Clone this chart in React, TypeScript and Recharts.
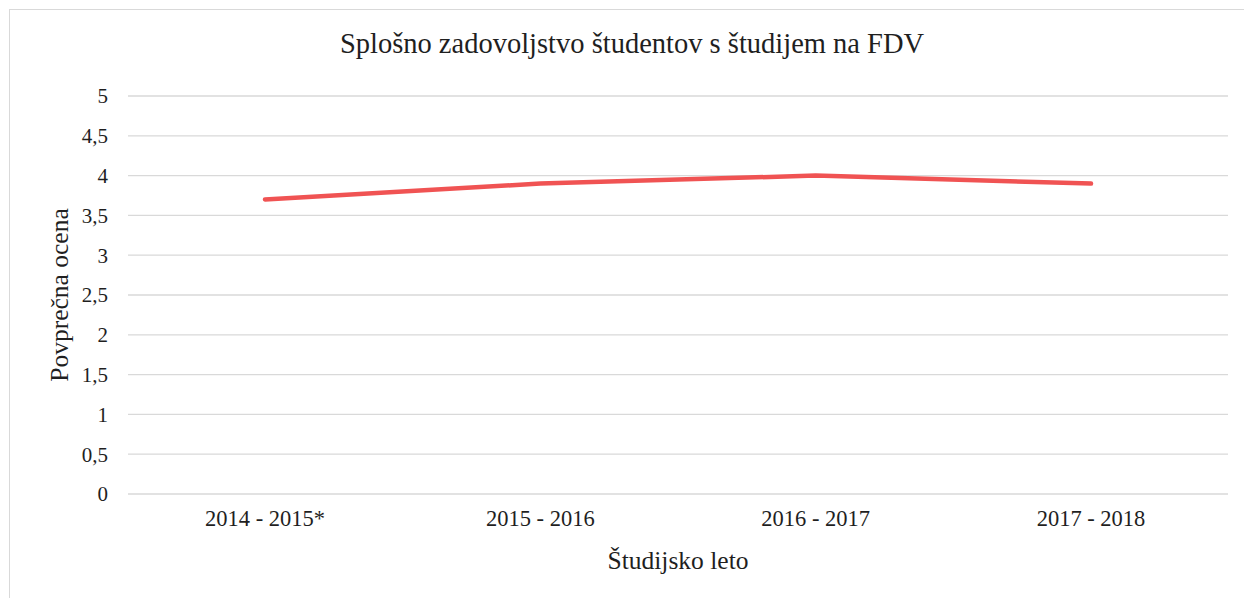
import React from 'react';
import { LineChart, Line, XAxis, YAxis, CartesianGrid } from 'recharts';

const years = ['2014 - 2015*', '2015 - 2016', '2016 - 2017', '2017 - 2018'];
const avgScores = [3.7, 3.9, 4.0, 3.9];
const yTicks = [0, 0.5, 1, 1.5, 2, 2.5, 3, 3.5, 4, 4.5, 5];

const data = years.map((year, i) => ({ year, score: avgScores[i] }));

const font = "'Liberation Serif', serif";
const textColor = '#1f1f1f';

const fmt = (v: number) => String(v).replace('.', ',');

export default function App() {
    return (
        <div style={{ position: 'absolute', left: 0, top: 0, width: 1244, height: 598, overflow: 'hidden', background: '#fff', fontFamily: font }}>
            {/* chart frame, cut off at right and bottom like the source */}
            <div style={{ position: 'absolute', left: 9, top: 9, width: 1300, height: 700, border: '1.5px solid #d9d9d9' }} />
            <div style={{ position: 'absolute', left: 0, top: 28, width: 1264, textAlign: 'center', fontSize: 28.5, color: textColor, fontFamily: font }}>
                Splošno zadovoljstvo študentov s študijem na FDV
            </div>
            <LineChart
                width={1244}
                height={598}
                data={data}
                margin={{ top: 96, right: 16, bottom: 24, left: 68 }}
                style={{ position: 'absolute', left: 0, top: 0, fontFamily: font }}
            >
                <CartesianGrid vertical={false} stroke="#d9d9d9" strokeWidth={1.3} />
                <XAxis
                    dataKey="year"
                    height={80}
                    padding={{ left: 137, right: 137 }}
                    axisLine={false}
                    tickLine={false}
                    tickSize={0}
                    tickMargin={16}
                    tick={{ fill: textColor, fontSize: 22.5, fontFamily: font }}
                    label={{ value: 'Študijsko leto', position: 'insideBottom', offset: 5, fill: textColor, fontSize: 25.5, fontFamily: font }}
                />
                <YAxis
                    width={60}
                    domain={[0, 5]}
                    ticks={yTicks}
                    tickFormatter={fmt}
                    axisLine={false}
                    tickLine={false}
                    tickSize={0}
                    tickMargin={20}
                    tick={{ fill: textColor, fontSize: 21, fontFamily: font }}
                    label={{ value: 'Povprečna ocena', angle: -90, position: 'center', dx: -39, fill: textColor, fontSize: 25.5, fontFamily: font }}
                />
                <Line
                    type="linear"
                    dataKey="score"
                    stroke="#F05353"
                    strokeWidth={4.5}
                    strokeLinecap="round"
                    dot={false}
                    activeDot={false}
                    isAnimationActive={false}
                />
            </LineChart>
        </div>
    );
}
